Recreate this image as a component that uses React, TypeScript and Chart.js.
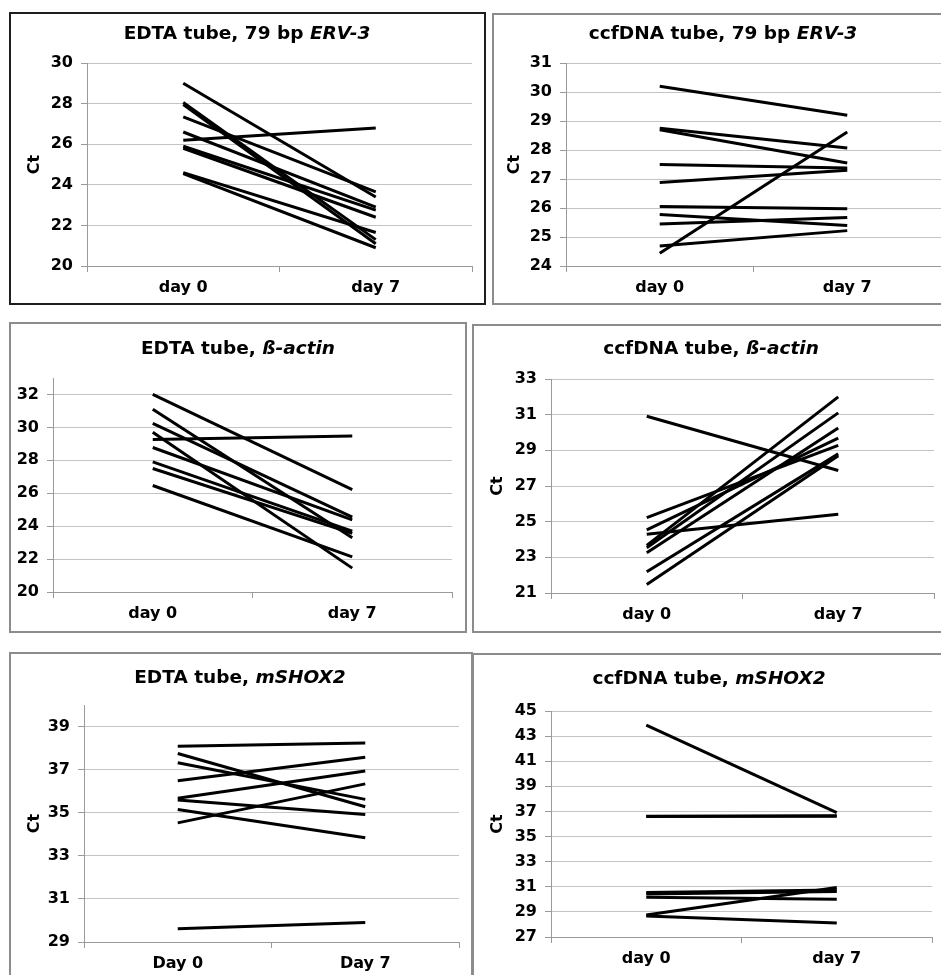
import React, { useEffect, useRef } from "react";
import { Chart, registerables } from "chart.js";

Chart.register(...registerables);

// ---------- data ----------
const DAYS_LOWER = ["day 0", "day 7"];
const DAYS_UPPER = ["Day 0", "Day 7"];

const EDTA_ERV3_DAY0 = [29.0, 28.05, 27.95, 27.35, 26.6, 26.2, 25.9, 25.8, 24.6, 24.55];
const EDTA_ERV3_DAY7 = [23.4, 21.3, 21.1, 23.65, 22.9, 26.8, 22.75, 22.4, 21.65, 20.9];
const EDTA_ERV3_TICKS = [20, 22, 24, 26, 28, 30];

const CCF_ERV3_DAY0 = [30.2, 28.75, 28.7, 27.5, 26.88, 26.05, 25.78, 25.45, 24.69, 24.44];
const CCF_ERV3_DAY7 = [29.2, 28.07, 27.55, 27.38, 27.3, 25.97, 25.4, 25.67, 25.22, 28.62];
const CCF_ERV3_TICKS = [24, 25, 26, 27, 28, 29, 30, 31];

const EDTA_ACTIN_DAY0 = [32.0, 31.1, 30.24, 29.7, 29.26, 28.78, 27.9, 27.5, 26.47];
const EDTA_ACTIN_DAY7 = [26.22, 23.3, 24.55, 21.45, 29.47, 24.38, 23.7, 23.56, 22.13];
const EDTA_ACTIN_TICKS = [20, 22, 24, 26, 28, 30, 32];

const CCF_ACTIN_DAY0 = [30.91, 25.23, 24.54, 24.29, 23.67, 23.54, 23.26, 22.19, 21.47];
const CCF_ACTIN_DAY7 = [27.87, 29.28, 29.69, 25.42, 32.0, 31.1, 30.25, 28.8, 28.7];
const CCF_ACTIN_TICKS = [21, 23, 25, 27, 29, 31, 33];

const EDTA_SHOX2_DAY0 = [38.08, 37.75, 37.32, 36.48, 35.67, 35.59, 35.15, 34.53, 29.62];
const EDTA_SHOX2_DAY7 = [38.24, 35.28, 35.62, 37.58, 36.94, 34.92, 33.84, 36.34, 29.9];
const EDTA_SHOX2_TICKS = [29, 31, 33, 35, 37, 39];

const CCF_SHOX2_DAY0 = [43.87, 36.62, 36.6, 30.54, 30.43, 30.17, 28.75, 28.67];
const CCF_SHOX2_DAY7 = [36.91, 36.62, 36.65, 30.75, 30.62, 30.0, 30.94, 28.12];
const CCF_SHOX2_TICKS = [27, 29, 31, 33, 35, 37, 39, 41, 43, 45];

// ---------- styling ----------
const FONT = "'DejaVu Sans', Verdana, sans-serif";
const LINE_COLOR = "#000000";
const GRID_COLOR = "#c4c4c4";
const AXIS_COLOR = "#9a9a9a";
const BW = 2;

type Box = { x: number; y: number; w: number; h: number };
type Area = { l: number; t: number; r: number; b: number };
type PanelDef = {
  titlePlain: string;
  titleItalic: string;
  cats: string[];
  day0: number[];
  day7: number[];
  ticks: number[];
  yMin: number;
  yMax: number;
  ct: boolean;
  ctX: number;
  box: Box;
  area: Area;
  titleX: number;
  titleY: number;
  border: string;
};

const PANELS: PanelDef[] = [
  {
    titlePlain: "EDTA tube, 79 bp ", titleItalic: "ERV-3", cats: DAYS_LOWER,
    day0: EDTA_ERV3_DAY0, day7: EDTA_ERV3_DAY7, ticks: EDTA_ERV3_TICKS, yMin: 20, yMax: 30,
    ct: true, ctX: 35,
    box: { x: 9, y: 12, w: 477, h: 293 }, area: { l: 87, t: 63, r: 472, b: 266 },
    titleX: 247, titleY: 33, border: "#1e1e1e",
  },
  {
    titlePlain: "ccfDNA tube, 79 bp ", titleItalic: "ERV-3", cats: DAYS_LOWER,
    day0: CCF_ERV3_DAY0, day7: CCF_ERV3_DAY7, ticks: CCF_ERV3_TICKS, yMin: 24, yMax: 31,
    ct: true, ctX: 515,
    box: { x: 492, y: 13, w: 460, h: 292 }, area: { l: 566, t: 63, r: 941, b: 266 },
    titleX: 723, titleY: 33, border: "#8c8c8c",
  },
  {
    titlePlain: "EDTA tube, ", titleItalic: "ß-actin", cats: DAYS_LOWER,
    day0: EDTA_ACTIN_DAY0, day7: EDTA_ACTIN_DAY7, ticks: EDTA_ACTIN_TICKS, yMin: 20, yMax: 33,
    ct: false, ctX: 35,
    box: { x: 9, y: 322, w: 458, h: 311 }, area: { l: 53, t: 378, r: 452, b: 592 },
    titleX: 238, titleY: 348, border: "#8c8c8c",
  },
  {
    titlePlain: "ccfDNA tube, ", titleItalic: "ß-actin", cats: DAYS_LOWER,
    day0: CCF_ACTIN_DAY0, day7: CCF_ACTIN_DAY7, ticks: CCF_ACTIN_TICKS, yMin: 21, yMax: 33,
    ct: true, ctX: 498,
    box: { x: 472, y: 324, w: 480, h: 309 }, area: { l: 551, t: 379, r: 934, b: 593 },
    titleX: 711, titleY: 348, border: "#8c8c8c",
  },
  {
    titlePlain: "EDTA tube, ", titleItalic: "mSHOX2", cats: DAYS_UPPER,
    day0: EDTA_SHOX2_DAY0, day7: EDTA_SHOX2_DAY7, ticks: EDTA_SHOX2_TICKS, yMin: 29, yMax: 40,
    ct: true, ctX: 35,
    box: { x: 9, y: 652, w: 464, h: 340 }, area: { l: 84, t: 705, r: 459, b: 942 },
    titleX: 240, titleY: 677, border: "#8c8c8c",
  },
  {
    titlePlain: "ccfDNA tube, ", titleItalic: "mSHOX2", cats: DAYS_LOWER,
    day0: CCF_SHOX2_DAY0, day7: CCF_SHOX2_DAY7, ticks: CCF_SHOX2_TICKS, yMin: 27, yMax: 45,
    ct: true, ctX: 498,
    box: { x: 472, y: 653, w: 480, h: 340 }, area: { l: 551, t: 711, r: 932, b: 937 },
    titleX: 709, titleY: 678, border: "#8c8c8c",
  },
];

function Panel({ def }: { def: PanelDef }) {
  const ref = useRef<HTMLCanvasElement>(null);
  const cx = def.box.x + BW;
  const cy = def.box.y + BW;
  const cw = def.box.w - 2 * BW;
  const ch = def.box.h - 2 * BW;

  useEffect(() => {
    const canvas = ref.current;
    if (!canvas) return;
    const datasets = def.day0.map((v, i) => ({
      data: [v, def.day7[i]],
      borderColor: LINE_COLOR,
      backgroundColor: LINE_COLOR,
      borderWidth: 3,
      pointRadius: 0,
      fill: false,
      tension: 0,
    }));
    const tickFont = { family: FONT, size: 16, weight: "bold" as const };
    const chart = new Chart(canvas, {
      type: "line",
      data: { labels: def.cats, datasets },
      options: {
        animation: false,
        responsive: false,
        devicePixelRatio: 1,
        layout: {
          padding: {
            left: 0,
            top: def.area.t - cy,
            right: cx + cw - def.area.r,
            bottom: 0,
          },
        },
        plugins: {
          legend: { display: false },
          tooltip: { enabled: false },
          title: { display: false },
        },
        scales: {
          x: {
            type: "category",
            offset: true,
            grid: {
              offset: true,
              drawOnChartArea: false,
              drawTicks: true,
              tickLength: 6,
              tickColor: AXIS_COLOR,
              color: AXIS_COLOR,
            },
            border: { color: AXIS_COLOR, width: 1 },
            ticks: { font: tickFont, color: "#000", padding: 6, maxRotation: 0 },
            afterFit: (s: any) => {
              s.height = cy + ch - def.area.b;
            },
          },
          y: {
            type: "linear",
            min: def.yMin,
            max: def.yMax,
            afterBuildTicks: (s: any) => {
              s.ticks = def.ticks.map((v) => ({ value: v }));
            },
            grid: {
              color: GRID_COLOR,
              drawTicks: true,
              tickLength: 6,
              tickColor: AXIS_COLOR,
            },
            border: { color: AXIS_COLOR, width: 1 },
            ticks: { font: tickFont, color: "#000", padding: 8 },
            title: {
              display: def.ct,
              text: "Ct",
              color: "#000",
              font: { family: FONT, size: 16, weight: "bold" },
              padding: { top: def.ctX - cx - 10, bottom: 0 },
            },
            afterFit: (s: any) => {
              s.width = def.area.l - cx;
            },
          },
        },
      },
    });
    return () => chart.destroy();
  }, [def]);

  return (
    <>
      <div
        style={{
          position: "absolute",
          left: def.box.x,
          top: def.box.y,
          width: def.box.w,
          height: def.box.h,
          border: `${BW}px solid ${def.border}`,
          boxSizing: "border-box",
        }}
      />
      <canvas
        ref={ref}
        width={cw}
        height={ch}
        style={{ position: "absolute", left: cx, top: cy, width: cw, height: ch }}
      />
      <div
        style={{
          position: "absolute",
          left: def.titleX - 200,
          top: def.titleY - 12,
          width: 400,
          height: 24,
          lineHeight: "24px",
          textAlign: "center",
          fontFamily: FONT,
          fontWeight: "bold",
          fontSize: 18.5,
          color: "#000",
          whiteSpace: "nowrap",
        }}
      >
        {def.titlePlain}
        <i>{def.titleItalic}</i>
      </div>
    </>
  );
}

export default function App() {
  return (
    <div
      style={{
        position: "absolute",
        left: 0,
        top: 0,
        width: 941,
        height: 975,
        overflow: "hidden",
        background: "#fff",
      }}
    >
      {PANELS.map((p, i) => (
        <Panel key={i} def={p} />
      ))}
    </div>
  );
}
